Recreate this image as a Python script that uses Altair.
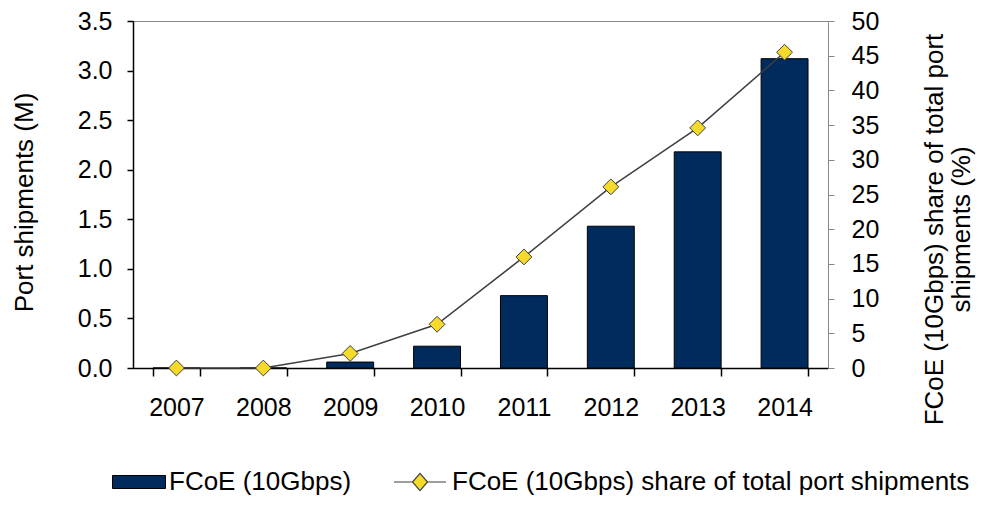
import altair as alt
import pandas as pd

years = ["2007", "2008", "2009", "2010", "2011", "2012", "2013", "2014"]
ports = [0.0, 0.0, 0.06, 0.22, 0.73, 1.43, 2.18, 3.12]
share = [0.0, 0.0, 2.1, 6.3, 16.0, 26.1, 34.6, 45.5]
bar_name = "FCoE (10Gbps)"
line_name = "FCoE (10Gbps) share of total port shipments"

df = pd.DataFrame({"year": years, "ports": ports, "share": share,
                   "s1": bar_name, "s2": line_name})

FONT = "Liberation Sans"

x = alt.X("year:N", title=None, sort=years,
          scale=alt.Scale(paddingInner=0.46, paddingOuter=0.23),
          axis=alt.Axis(labelAngle=0, tickBand="extent", tickSize=8,
                        labelPadding=19, domainColor="black", tickColor="black",
                        domainWidth=1.5, tickWidth=1.5,
                        labelFontSize=25, labelColor="black"))

bars = alt.Chart(df).mark_bar(stroke="black", strokeWidth=1).encode(
    x=x,
    y=alt.Y("ports:Q", title="Port shipments (M)",
            scale=alt.Scale(domain=[0, 3.5], nice=False),
            axis=alt.Axis(values=[0, 0.5, 1, 1.5, 2, 2.5, 3, 3.5], format=".1f",
                          orient="left", domainColor="black", tickColor="black",
                          domainWidth=1.5, tickWidth=1.5,
                          tickSize=6, labelPadding=15, labelFontSize=25,
                          titleFontSize=26, titleFontWeight="normal",
                          titleY=181,
                          titlePadding=40, labelColor="black", titleColor="black")),
    color=alt.Color("s1:N", title=None,
                    scale=alt.Scale(domain=[bar_name], range=["#002B5C"]),
                    legend=alt.Legend(orient="none", legendX=-21, legendY=434,
                                      padding=0,
                                      symbolType="M-1,-0.245H1V0.245H-1Z",
                                      symbolSize=2809, symbolStrokeColor="black",
                                      symbolStrokeWidth=1, labelFontSize=26,
                                      labelLimit=0,
                                      labelColor="black", labelOffset=3)),
)

yr = alt.Y("share:Q", title=["FCoE (10Gbps) share of total port", "shipments (%)"],
           scale=alt.Scale(domain=[0, 50], nice=False),
           axis=alt.Axis(values=list(range(0, 55, 5)), orient="right",
                         domainColor="#888888", tickColor="#888888", tickSize=6,
                         labelPadding=17, labelFontSize=25, titleFontSize=26,
                         titleFontWeight="normal", titleAngle=270, titlePadding=42,
                         titleY=208,
                         labelColor="black", titleColor="black", titleLineHeight=27))

line = alt.Chart(df).mark_line(color="#404040", strokeWidth=1.5).encode(
    x=alt.X("year:N", sort=years), y=yr)

pts = alt.Chart(df).mark_point(shape="diamond", filled=True, size=250,
                               stroke="#404040", strokeWidth=1, opacity=1).encode(
    x=alt.X("year:N", sort=years), y=yr,
    fill=alt.Fill("s2:N", title=None,
                  scale=alt.Scale(domain=[line_name], range=["#F5D92B"]),
                  legend=alt.Legend(orient="none", legendX=260, legendY=434,
                                    padding=0,
                                    symbolType="M-1,0H-0.29M0.29,0H1M0,-0.33L0.29,0L0,0.33L-0.29,0Z",
                                    symbolSize=2704, symbolStrokeColor="#404040",
                                    symbolStrokeWidth=1.2, labelFontSize=26,
                                    labelLimit=0,
                                    labelColor="black", labelOffset=5)),
)

right = alt.layer(line, pts)

chart = alt.layer(bars, right).resolve_scale(
    y="independent", color="independent", fill="independent"
).properties(
    width=695, height=347,
    autosize=alt.AutoSizeParams(type="none"),
    padding={"left": 125, "top": 13, "right": 148, "bottom": 129},
).configure(font=FONT).configure_axis(grid=False).configure_view(
    stroke="#888888", strokeWidth=1)

chart.save("out.html", embed_options={"renderer": "svg", "actions": False})
